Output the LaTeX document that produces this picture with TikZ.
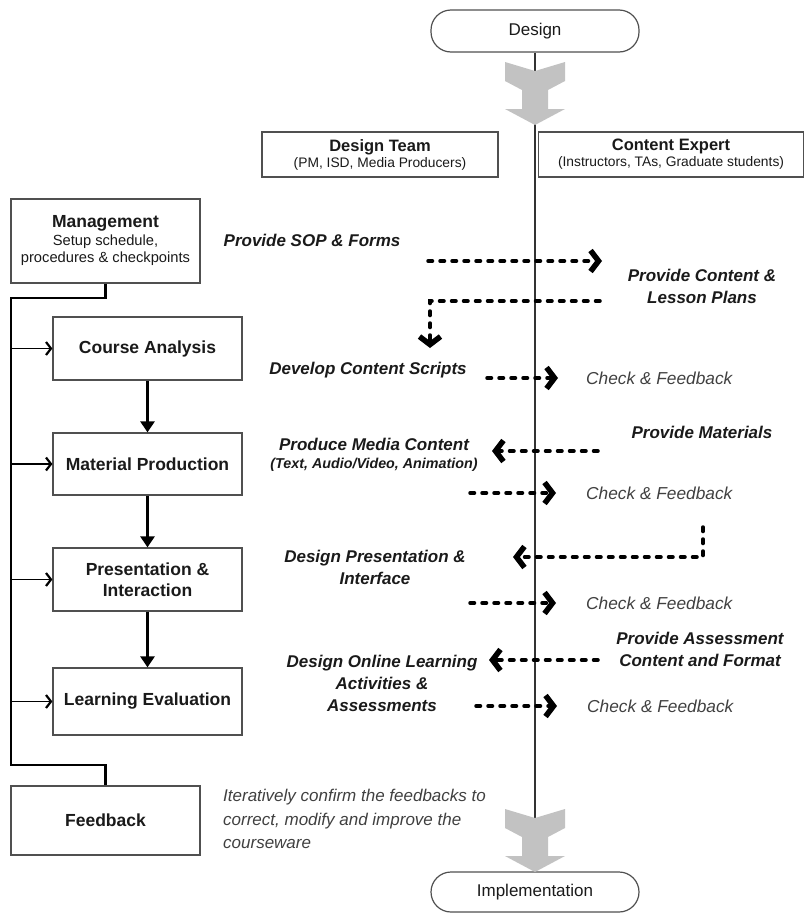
\documentclass[tikz,border=0pt]{standalone}
\usepackage{fontspec}
\setmainfont{Liberation Sans}
\usetikzlibrary{arrows.meta}
\definecolor{boxline}{HTML}{505050}
\definecolor{ink}{HTML}{1A1A1A}
\definecolor{chkc}{HTML}{404040}
\definecolor{arrowgray}{HTML}{C2C2C2}
\begin{document}
\begin{tikzpicture}[x=1pt,y=-1pt,
  box/.style={draw=boxline, line width=1.2pt, fill=white, inner sep=0pt, align=center, text=ink},
  term/.style={box, rounded corners=20pt, font=\fontsize{17}{20}\selectfont},
  bigb/.style={font=\fontsize{17.5}{20.5}\selectfont\bfseries},
  lbl/.style={font=\fontsize{17}{22}\selectfont\bfseries\itshape, align=center, text=ink, inner sep=0pt},
  chk/.style={font=\fontsize{17.3}{20}\selectfont\itshape, text=chkc, anchor=west, inner sep=0pt},
  fbt/.style={font=\fontsize{17}{23.5}\selectfont\itshape, text=chkc, anchor=west, align=left, inner sep=0pt},
  flow/.style={line width=2.4pt, draw=black},
  flowarr/.style={flow, -{Triangle[length=11pt,width=14pt]}},
  sidearr/.style={line width=1.6pt, -{Straight Barb[length=5pt,width=13pt,line width=2.2pt]}},
  darr/.style={line width=3.5pt, line cap=round, dash pattern=on 4.5pt off 7.5pt, -{Straight Barb[length=8pt,width=21pt,line width=5.5pt]}},
  mainline/.style={line width=2pt, draw=black!80},
  grayarr/.pic={\fill[arrowgray] (-30,0) -- (0,9) -- (30,0) -- (30,19) -- (13,28) -- (13,47) -- (30,47) -- (0,63) -- (-30,47) -- (-13,47) -- (-13,28) -- (-30,19) -- cycle;}
]
\useasboundingbox (0,0) rectangle (805,913);

% terminals
\node[term, minimum width=208pt, minimum height=42pt] (design) at (535,31) {Design};
\node[term, minimum width=208pt, minimum height=40pt] (impl) at (535,892) {Implementation};

% main line and gray arrows
\draw[mainline] (design.south) -- (impl.north);
\pic at (535,62) {grayarr};
\pic at (535,809) {grayarr};

% role boxes
\node[box, minimum width=236pt, minimum height=45pt, font=\fontsize{13.8}{16}\selectfont] (team) at (380,154.5)
  {{\fontsize{16.5}{16}\selectfont\bfseries Design Team}\\(PM, ISD, Media Producers)};
\node[box, minimum width=265pt, minimum height=45pt, font=\fontsize{13.8}{16}\selectfont] (expert) at (671,154.5)
  {{\fontsize{16.5}{16}\selectfont\bfseries Content Expert}\\(Instructors, TAs, Graduate students)};

% left process boxes
\node[box, minimum width=189pt, minimum height=84pt, font=\fontsize{14.7}{17.5}\selectfont] (mgmt) at (105.5,241)
  {{\fontsize{17.5}{20}\selectfont\bfseries Management}\\Setup schedule,\\procedures \& checkpoints};
\node[box, bigb, minimum width=189pt, minimum height=63pt] (ca) at (147.5,348.5) {Course Analysis};
\node[box, bigb, minimum width=189pt, minimum height=62pt] (mp) at (147.5,464) {Material Production};
\node[box, bigb, minimum width=189pt, minimum height=63pt] (pi) at (147.5,579.5) {Presentation \&\\Interaction};
\node[box, bigb, minimum width=189pt, minimum height=67pt] (le) at (147.5,701.5) {Learning Evaluation};
\node[box, bigb, minimum width=189pt, minimum height=69pt] (fb) at (105.5,820.5) {Feedback};

% left connectors
\coordinate (lt) at (11,298);
\coordinate (lb) at (11,765);
\draw[flow] (mgmt.south) |- (lt) -- (lb) -| (fb.north);
\draw[sidearr] (lt |- ca.west) -- (ca.west);
\draw[sidearr] (lt |- mp.west) -- (mp.west);
\draw[sidearr] (lt |- pi.west) -- (pi.west);
\draw[sidearr] (lt |- le.west) -- (le.west);
\draw[flowarr] (ca.south) -- (mp.north);
\draw[flowarr] (mp.south) -- (pi.north);
\draw[flowarr] (pi.south) -- (le.north);

% labels
\node[lbl] (sop) at (312,240) {Provide SOP \& Forms};
\node[lbl] (pcl) at (702,286) {Provide Content \&\\Lesson Plans};
\node[lbl] (dcs) at (368,370) {Develop Content Scripts};
\node[chk] (chk1) at (586,378) {Check \& Feedback};
\node[lbl] (pm) at (702,432) {Provide Materials};
\node[lbl] (pmc) at (374,455) {Produce Media Content\\[-4pt]{\fontsize{14.3}{16}\selectfont (Text, Audio/Video, Animation)}};
\node[chk] (chk2) at (586,493) {Check \& Feedback};
\node[lbl] (dpi) at (375,567) {Design Presentation \&\\Interface};
\node[chk] (chk3) at (586,603) {Check \& Feedback};
\node[lbl] (pacf) at (700,649) {Provide Assessment\\Content and Format};
\node[lbl] (dola) at (382,683) {Design Online Learning\\Activities \&\\Assessments};
\node[chk] (chk4) at (587,706) {Check \& Feedback};
\node[fbt] (fbtxt) at (223,819) {Iteratively confirm the feedbacks to\\correct, modify and improve the\\courseware};

% dashed arrows
\coordinate (a1s) at (428,261); \coordinate (a1e) at (602,261);
\coordinate (a2s) at (600,301); \coordinate (a2e) at (430,348);
\coordinate (a3s) at (487,378); \coordinate (a3e) at (558,378);
\coordinate (a4s) at (598,451); \coordinate (a4e) at (492,451);
\coordinate (a5s) at (470,493); \coordinate (a5e) at (556,493);
\coordinate (a6s) at (703,527); \coordinate (a6e) at (513,557);
\coordinate (a7s) at (470,603); \coordinate (a7e) at (556,603);
\coordinate (a8s) at (598,660); \coordinate (a8e) at (489,660);
\coordinate (a9s) at (476,706); \coordinate (a9e) at (557,706);
\draw[darr] (a1s) -- (a1e);
\draw[darr] (a2s) -| (a2e);
\draw[darr] (a3s) -- (a3e);
\draw[darr] (a4s) -- (a4e);
\draw[darr] (a5s) -- (a5e);
\draw[darr] (a6s) |- (a6e);
\draw[darr] (a7s) -- (a7e);
\draw[darr] (a8s) -- (a8e);
\draw[darr] (a9s) -- (a9e);
\end{tikzpicture}
\end{document}
